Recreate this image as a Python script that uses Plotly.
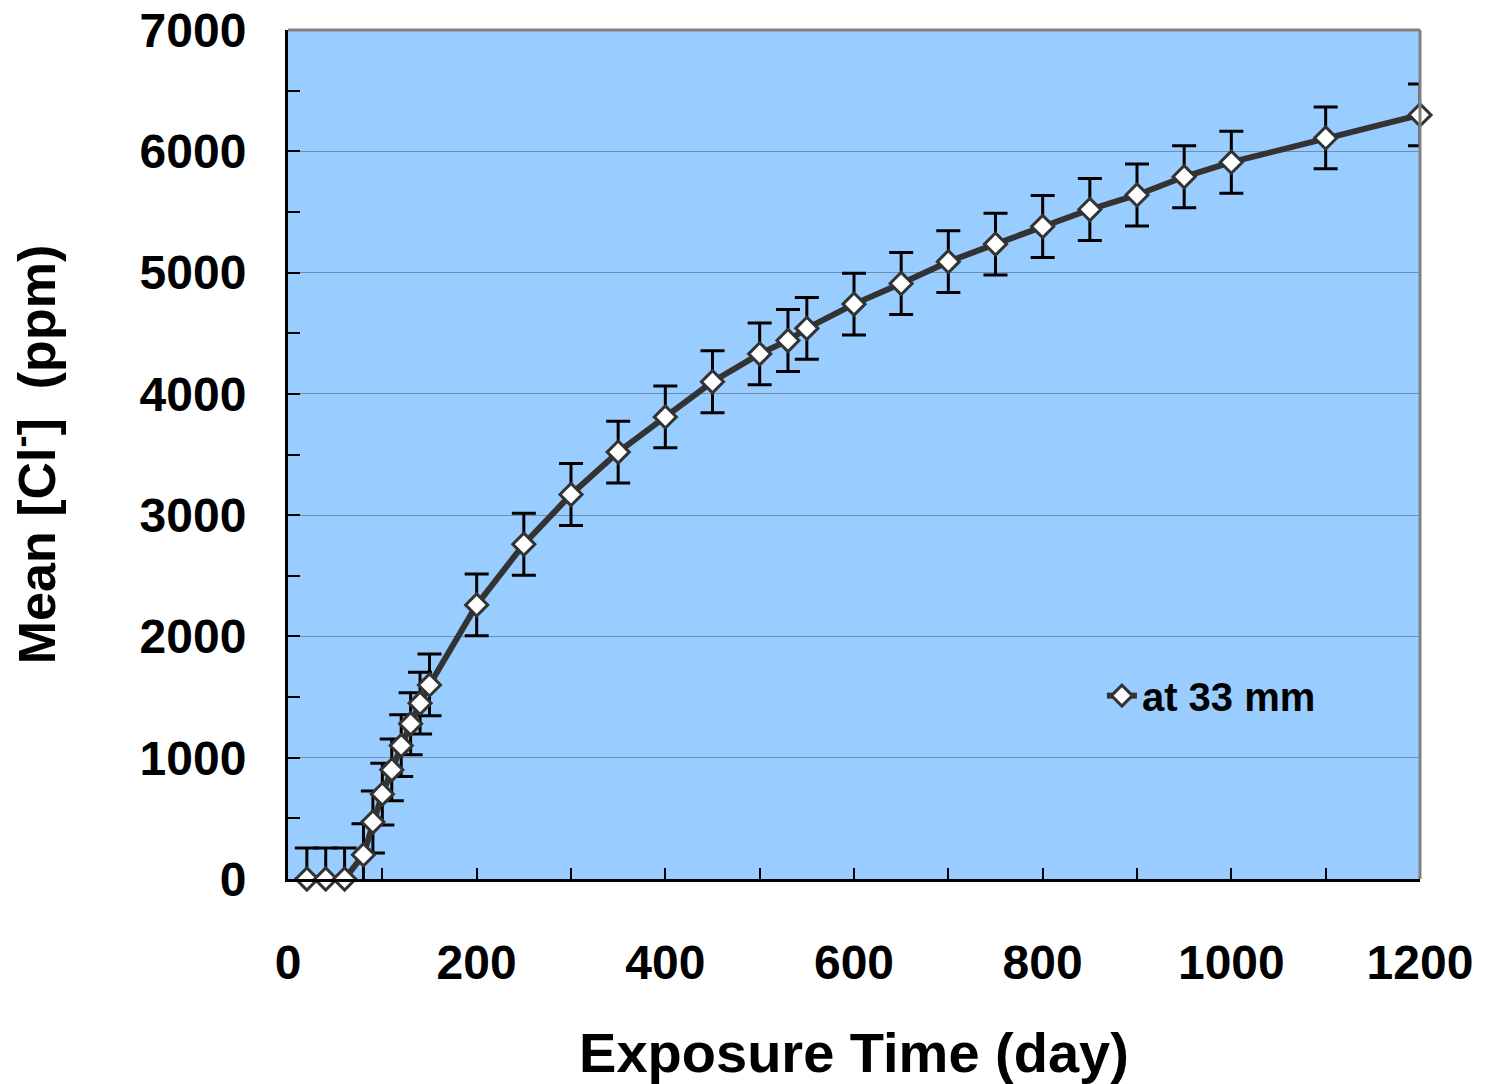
import plotly.graph_objects as go

days = [20, 40, 60, 80, 90, 100, 110, 120, 130, 140, 150, 200, 250, 300, 350, 400, 450,
        500, 530, 550, 600, 650, 700, 750, 800, 850, 900, 950, 1000, 1100, 1200]
mean_cl = [0, 0, 0, 200, 470, 700, 900, 1100, 1280, 1450, 1600, 2260, 2760, 3170, 3520,
           3810, 4100, 4330, 4440, 4540, 4740, 4910, 5090, 5235, 5380, 5520, 5640, 5790,
           5910, 6110, 6300]
err_plus = [255] * len(days)
err_minus = [0, 0, 0] + [255] * (len(days) - 3)

series_name = "at 33 mm"
x_ticks = [0, 200, 400, 600, 800, 1000, 1200]
y_ticks = [0, 1000, 2000, 3000, 4000, 5000, 6000, 7000]

FONT = "Liberation Sans, Arial, sans-serif"

fig = go.Figure()
fig.add_trace(go.Scatter(
    x=days, y=mean_cl, mode="lines+markers", name=series_name,
    line=dict(color="#333333", width=6),
    marker=dict(symbol="diamond", size=17, color="white",
                line=dict(color="#333333", width=3)),
    error_y=dict(type="data", symmetric=False, array=err_plus, arrayminus=err_minus,
                 color="black", thickness=3, width=12),
    cliponaxis=False,
))

fig.update_layout(
    width=1490, height=1084,
    margin=dict(l=288, r=70, t=30, b=205),
    paper_bgcolor="white", plot_bgcolor="#99CCFF",
    font=dict(family=FONT, color="black"),
    showlegend=True,
    legend=dict(x=0.719, y=0.216, xanchor="left", yanchor="middle",
                bgcolor="rgba(0,0,0,0)",
                font=dict(family=FONT, size=40, weight="bold", color="black")),
    xaxis=dict(
        range=[0, 1200], tickvals=x_ticks, ticktext=[str(v) for v in x_ticks],
        showgrid=False, zeroline=False,
        showline=True, linecolor="black", linewidth=3,
        ticks="inside", ticklen=11, tickwidth=2, tickcolor="black",
        minor=dict(dtick=100, ticks="inside", ticklen=11, tickwidth=2, tickcolor="black"),
        tickfont=dict(family=FONT, size=48, weight="bold"),
        ticklabelstandoff=39,
        title=dict(text="Exposure Time (day)", standoff=54,
                   font=dict(family=FONT, size=56, weight="bold")),
        automargin=False,
    ),
    yaxis=dict(
        range=[0, 7000], tickvals=y_ticks, ticktext=[str(v) for v in y_ticks],
        showgrid=True, gridcolor="#6f8fae", gridwidth=1,
        zeroline=False,
        showline=True, linecolor="black", linewidth=3,
        ticks="inside", ticklen=12, tickwidth=2, tickcolor="black",
        minor=dict(dtick=500, ticks="inside", ticklen=12, tickwidth=2, tickcolor="black",
                   showgrid=False),
        tickfont=dict(family=FONT, size=48, weight="bold"),
        ticklabelstandoff=29,
        title=dict(text="Mean [Cl<sup>-</sup>]  (ppm)", standoff=82,
                   font=dict(family=FONT, size=52, weight="bold")),
        automargin=False,
    ),
    shapes=[
        dict(type="line", xref="paper", yref="paper", x0=0, x1=1, y0=1, y1=1,
             line=dict(color="#808080", width=3)),
        dict(type="line", xref="paper", yref="paper", x0=1, x1=1, y0=0, y1=1,
             line=dict(color="#808080", width=3)),
    ],
)

fig.write_html("out.html")
